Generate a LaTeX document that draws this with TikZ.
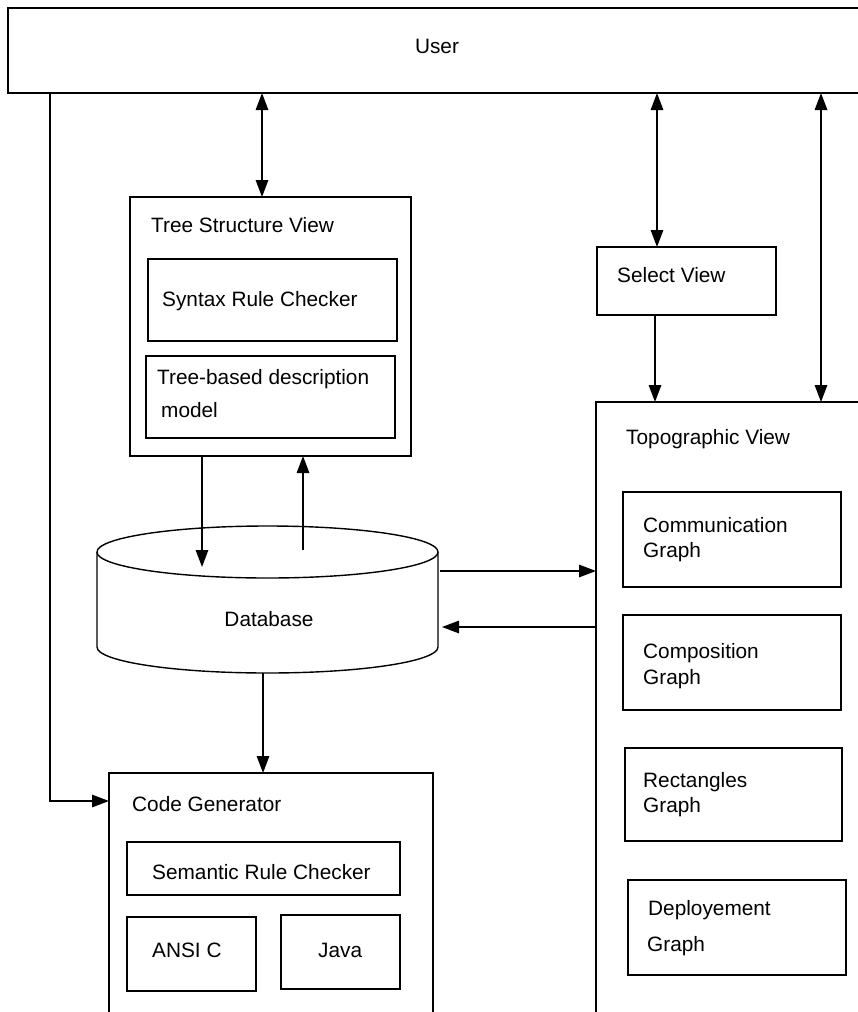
\documentclass[tikz,border=0pt]{standalone}
\usepackage{fontspec}
\setmainfont{Liberation Sans}
\usetikzlibrary{arrows.meta,calc}
\newcommand\diafont{\fontsize{20.8pt}{25pt}\selectfont}
\begin{document}
\begin{tikzpicture}[x=1pt,y=1pt,
  box/.style={draw, line width=1.4pt, rectangle, inner sep=0pt, outer sep=0pt, anchor=north west},
  lbl/.style={inner sep=0pt, anchor=base west, font=\diafont},
  clbl/.style={inner sep=0pt, anchor=base, font=\diafont},
  link/.style={line width=1.4pt, -{Triangle[length=17pt,width=12.5pt]}},
  dlink/.style={line width=1.4pt, {Triangle[length=17pt,width=12.5pt]}-{Triangle[length=17pt,width=12.5pt]}}]
\useasboundingbox (0,0) rectangle (858,-1012);
\clip (0,0) rectangle (858,-1012);
\fill[white] (0,0) rectangle (858,-1012);

% user bar across the top
\node[box, minimum width=880pt, minimum height=85pt] (user) at (8,-8) {};
\node[clbl] (userlbl) at (437,-53) {User};

% tree structure view
\node[box, minimum width=281pt, minimum height=259pt] (tree) at (130,-197) {};
\node[lbl] (treelbl) at (151,-232) {Tree Structure View};
\node[box, minimum width=249pt, minimum height=82pt] (syntax) at (148,-259) {};
\node[lbl] (syntaxlbl) at (162,-306) {Syntax Rule Checker};
\node[box, minimum width=249pt, minimum height=82pt] (tbd) at (146,-356) {};
\node[lbl] (tbdlbl1) at (157,-384) {Tree-based description};
\node[lbl] (tbdlbl2) at (161,-417) {model};

% select view
\node[box, minimum width=179pt, minimum height=68pt] (sel) at (597,-247) {};
\node[lbl] (sellbl) at (617,-282) {Select View};

% topographic view
\node[box, minimum width=300pt, minimum height=700pt] (topo) at (596,-402) {};
\node[lbl] (topolbl) at (626,-444) {Topographic View};
\node[box, minimum width=218pt, minimum height=95pt] (comm) at (623,-492) {};
\node[lbl] (commlbl1) at (643,-532) {Communication};
\node[lbl] (commlbl2) at (643,-557) {Graph};
\node[box, minimum width=218pt, minimum height=95pt] (comp) at (623,-615) {};
\node[lbl] (complbl1) at (643,-658) {Composition};
\node[lbl] (complbl2) at (643,-684) {Graph};
\node[box, minimum width=217pt, minimum height=93pt] (rect) at (625,-748) {};
\node[lbl] (rectlbl1) at (643,-787) {Rectangles};
\node[lbl] (rectlbl2) at (643,-812) {Graph};
\node[box, minimum width=218pt, minimum height=95pt] (depl) at (628,-880) {};
\node[lbl] (depllbl1) at (648,-915) {Deployement};
\node[lbl] (depllbl2) at (647,-951) {Graph};

% database cylinder
\node[inner sep=0pt, outer sep=0pt, minimum width=341pt, minimum height=147pt, anchor=north west] (db) at (97,-526) {};
\draw[line width=1.4pt] (267.5,-552) ellipse [x radius=170.5pt, y radius=26pt];
\draw[line width=1.4pt] (97,-552) -- (97,-647) arc[start angle=180, end angle=360, x radius=170.5pt, y radius=26pt] -- (438,-552);
\node[clbl] (dblbl) at (269,-626) {Database};

% code generator
\node[box, minimum width=324pt, minimum height=320pt] (code) at (109,-773) {};
\node[lbl] (codelbl) at (132,-811) {Code Generator};
\node[box, minimum width=273pt, minimum height=53pt] (sem) at (127,-842) {};
\node[lbl] (semlbl) at (152,-879) {Semantic Rule Checker};
\node[box, minimum width=129pt, minimum height=74pt] (ansi) at (127,-917) {};
\node[lbl] (ansilbl) at (152,-957) {ANSI C};
\node[box, minimum width=119pt, minimum height=74pt] (java) at (281,-915) {};
\node[lbl] (javalbl) at (318,-957) {Java};

% connector positions
\coordinate (ax1) at (262,0);
\coordinate (ax2) at (657,0);
\coordinate (ax3) at (655,0);
\coordinate (ax4) at (821,0);
\coordinate (ax5) at (263,0);
\coordinate (dbin) at (202,-567);
\coordinate (dbout) at (303,-550);
\coordinate (dbr1) at (440,-571);
\coordinate (dbr2) at (442,-627);
\coordinate (cgin) at (50,-801);

% connectors
\draw[dlink] (user.south -| ax1) -- (tree.north -| ax1);
\draw[dlink] (user.south -| ax2) -- (sel.north -| ax2);
\draw[dlink] (user.south -| ax4) -- (topo.north -| ax4);
\draw[link] (sel.south -| ax3) -- (topo.north -| ax3);
\draw[link] (tree.south -| dbin) -- (dbin);
\draw[link] (dbout) -- (tree.south -| dbout);
\draw[link] (dbr1) -- (topo.west |- dbr1);
\draw[link] (topo.west |- dbr2) -- (dbr2);
\draw[link] (db.south -| ax5) -- (code.north -| ax5);
\draw[link] (user.south -| cgin) |- (code.west |- cgin);
\end{tikzpicture}
\end{document}
